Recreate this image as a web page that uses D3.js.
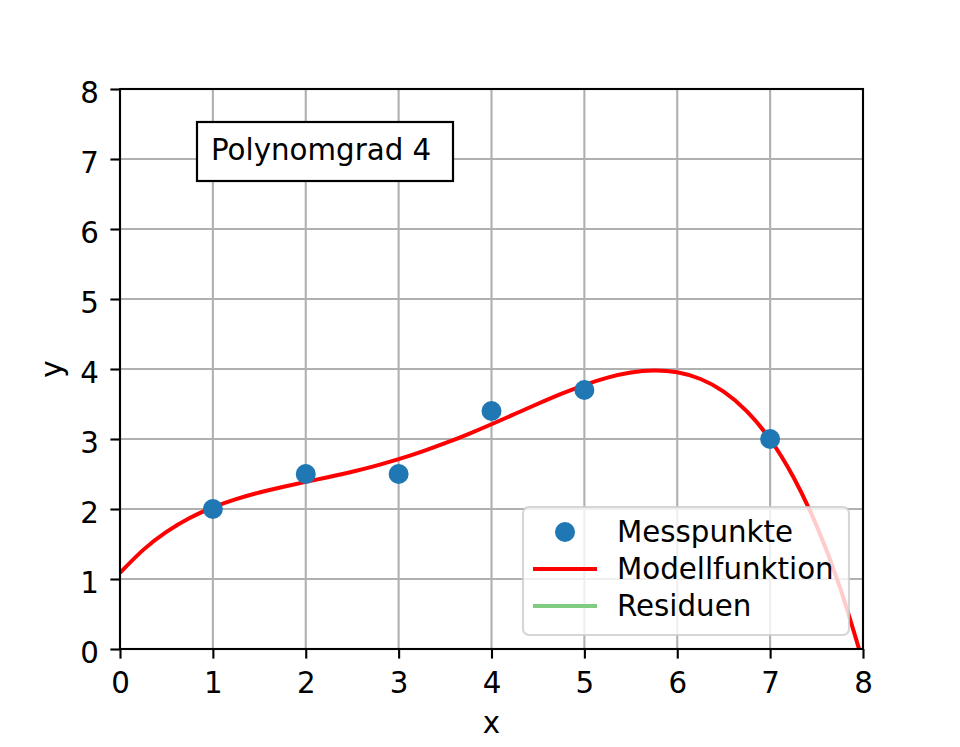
<!DOCTYPE html>
<html><head><meta charset="utf-8">
<script src="https://cdn.jsdelivr.net/npm/d3@7"></script>
<style>body{margin:0;background:#fff}svg{display:block}text{font-family:"DejaVu Sans",sans-serif}</style>
</head><body><svg id="c" width="960" height="747"></svg>
<script>
const pointX = [1, 2, 3, 4, 5, 7];
const pointY = [2.0, 2.5, 2.5, 3.4, 3.7, 3.0];
const curveX = [0,0.25,0.5,0.75,1,1.25,1.5,1.75,2,2.25,2.5,2.75,3,3.25,3.5,3.75,4,4.25,4.5,4.75,5,5.25,5.5,5.75,6,6.25,6.5,6.75,7,7.25,7.5,7.75,8];
const curveY = [1.087,1.416,1.673,1.871,2.024,2.142,2.236,2.315,2.387,2.458,2.533,2.617,2.712,2.820,2.940,3.071,3.211,3.357,3.503,3.644,3.771,3.876,3.949,3.979,3.953,3.857,3.677,3.395,2.995,2.457,1.762,0.887,-0.189];
const xTicks = [0,1,2,3,4,5,6,7,8];
const yTicks = [0,1,2,3,4,5,6,7,8];
const legendLabels = ["Messpunkte","Modellfunktion","Residuen"];
const annotation = "Polynomgrad 4";

const FS = 29.3;
const svg = d3.select("#c");
const L=120,R=863,T=89,B=649;
const x = d3.scaleLinear().domain([0,8]).range([L,R]);
const y = d3.scaleLinear().domain([0,8]).range([B,T]);

svg.append("defs").append("clipPath").attr("id","clip").append("rect")
  .attr("x",L).attr("y",T).attr("width",R-L).attr("height",B-T);

// grid
const g = svg.append("g");
g.selectAll(".gx").data(xTicks).join("line").attr("x1",d=>x(d)).attr("x2",d=>x(d))
  .attr("y1",T).attr("y2",B).attr("stroke","#b0b0b0").attr("stroke-width",2.1);
g.selectAll(".gy").data(yTicks).join("line").attr("y1",d=>y(d)).attr("y2",d=>y(d))
  .attr("x1",L).attr("x2",R).attr("stroke","#b0b0b0").attr("stroke-width",2.1);

// curve
const line = d3.line().x((d,i)=>x(curveX[i])).y(d=>y(d)).curve(d3.curveNatural);
svg.append("path").attr("clip-path","url(#clip)").attr("d",line(curveY))
  .attr("fill","none").attr("stroke","#ff0000").attr("stroke-width",4);

// points
svg.selectAll(".pt").data(pointX).join("circle").attr("cx",d=>x(d)).attr("cy",(d,i)=>y(pointY[i]))
  .attr("r",10).attr("fill","#1f77b4");

// axes
const ax = svg.append("g").attr("transform",`translate(0,${B})`)
  .call(d3.axisBottom(x).tickValues(xTicks).tickSize(9.6).tickPadding(9.6).tickFormat(d3.format("d")));
const ay = svg.append("g").attr("transform",`translate(${L},0)`)
  .call(d3.axisLeft(y).tickValues(yTicks).tickSize(9.6).tickPadding(11.4).tickFormat(d3.format("d")));
[ax,ay].forEach(a=>{
  a.select(".domain").remove();
  a.selectAll(".tick line").attr("stroke","#000").attr("stroke-width",2.1);
  a.selectAll(".tick text").attr("font-size",FS).attr("fill","#000").attr("font-family","DejaVu Sans");
});
ax.selectAll(".tick text").attr("y",44).attr("dy",0);
ay.selectAll(".tick text").attr("dy",13.5);
svg.append("rect").attr("x",L).attr("y",T).attr("width",R-L).attr("height",B-T)
  .attr("fill","none").attr("stroke","#000").attr("stroke-width",2.1);

// axis labels
svg.append("text").attr("x",(L+R)/2).attr("y",733).attr("text-anchor","middle").attr("font-size",FS).text("x");
svg.append("text").attr("transform",`translate(62,${(T+B)/2}) rotate(-90)`).attr("text-anchor","middle").attr("font-size",FS).text("y");

// annotation box
svg.append("rect").attr("x",197).attr("y",122).attr("width",256).attr("height",59)
  .attr("fill","#fff").attr("stroke","#000").attr("stroke-width",2.2);
svg.append("text").attr("x",211).attr("y",160).attr("font-size",FS).text(annotation);

// legend
const lg = svg.append("g");
lg.append("rect").attr("x",523).attr("y",507).attr("width",326).attr("height",128).attr("rx",6)
  .attr("fill","#fff").attr("fill-opacity",0.8).attr("stroke","#cccccc").attr("stroke-opacity",0.8).attr("stroke-width",2.1);
const rowsY=[532,569,606];
lg.append("circle").attr("cx",565).attr("cy",rowsY[0]).attr("r",10).attr("fill","#1f77b4");
lg.append("line").attr("x1",533).attr("x2",597).attr("y1",rowsY[1]).attr("y2",rowsY[1]).attr("stroke","#ff0000").attr("stroke-width",4);
lg.append("line").attr("x1",533).attr("x2",597).attr("y1",rowsY[2]).attr("y2",rowsY[2]).attr("stroke","#80cc80").attr("stroke-width",4);
lg.selectAll(".lt").data(legendLabels).join("text").attr("x",617).attr("y",(d,i)=>rowsY[i]+10)
  .attr("font-size",FS).text(d=>d);
</script></body></html>
